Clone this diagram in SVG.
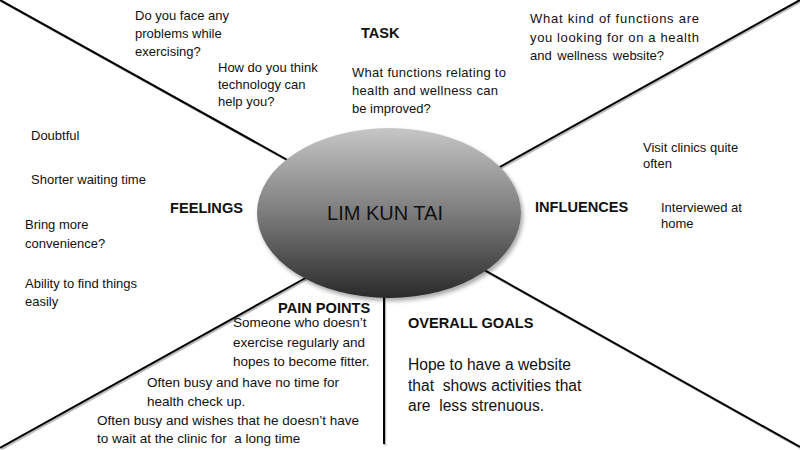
<svg xmlns="http://www.w3.org/2000/svg" width="800" height="450" viewBox="0 0 800 450">
<defs>
<linearGradient id="g" x1="0" y1="0" x2="0" y2="1">
<stop offset="0" stop-color="#c6c6c6"/>
<stop offset="0.5" stop-color="#7c7c7c"/>
<stop offset="1" stop-color="#2a2a2a"/>
</linearGradient>
<filter id="sh" x="-20%" y="-20%" width="140%" height="150%">
<feDropShadow dx="2" dy="3" stdDeviation="2" flood-color="#000" flood-opacity="0.35"/>
</filter>
</defs>
<style>
text{font-family:"Liberation Sans",Arial,sans-serif;fill:#111;}
.t{font-size:13px;}
.p{font-size:13.5px;}
.h{font-size:14.6px;font-weight:bold;}
.g{font-size:15.6px;}
.ln{stroke:#000;stroke-width:2;fill:none;}
.lns{stroke:#bbb;stroke-width:2;fill:none;}
</style>
<rect width="800" height="450" fill="#fff"/>
<g id="connectors">
<g transform="translate(1.2,1.5)">
<line class="lns" x1="0" y1="0" x2="300" y2="167"/>
<line class="lns" x1="800" y1="0" x2="480" y2="178"/>
<line class="lns" x1="0" y1="448" x2="320" y2="270"/>
<line class="lns" x1="800" y1="447" x2="470" y2="262"/>
<line class="lns" x1="384" y1="290" x2="384" y2="444"/>
</g>
<line class="ln" x1="0" y1="0" x2="300" y2="167"/>
<line class="ln" x1="800" y1="0" x2="480" y2="178"/>
<line class="ln" x1="0" y1="448" x2="320" y2="270"/>
<line class="ln" x1="800" y1="447" x2="470" y2="262"/>
<line class="ln" x1="384" y1="290" x2="384" y2="444"/>
</g>
<g id="center">
<ellipse cx="389" cy="213" rx="132" ry="85" fill="url(#g)" filter="url(#sh)"/>
<text x="385" y="220" font-size="20" text-anchor="middle">LIM KUN TAI</text>
</g>
<g id="task">
<text class="h" x="361" y="38">TASK</text>
<text class="t" x="352" y="77" textLength="154" lengthAdjust="spacing">What functions relating to</text>
<text class="t" x="352" y="95" textLength="146" lengthAdjust="spacing">health and wellness can</text>
<text class="t" x="352" y="113">be improved?</text>
</g>
<g id="task-left">
<text class="t" x="135" y="20">Do you face any</text>
<text class="t" x="135" y="38">problems while</text>
<text class="t" x="135" y="56">exercising?</text>
<text class="t" x="218" y="72">How do you think</text>
<text class="t" x="218" y="89">technology can</text>
<text class="t" x="218" y="106">help you?</text>
</g>
<g id="task-right">
<text class="t" x="530" y="23" textLength="169" lengthAdjust="spacing">What kind of functions are</text>
<text class="t" x="530" y="41.5" textLength="169" lengthAdjust="spacing">you looking for on a health</text>
<text class="t" x="530" y="60" word-spacing="2">and wellness website?</text>
</g>
<g id="feelings">
<text class="h" x="170" y="213">FEELINGS</text>
<text class="t" x="31" y="140">Doubtful</text>
<text class="t" x="31" y="184">Shorter waiting time</text>
<text class="t" x="25" y="229">Bring more</text>
<text class="t" x="25" y="248">convenience?</text>
<text class="t" x="25" y="288">Ability to find things</text>
<text class="t" x="25" y="306">easily</text>
</g>
<g id="influences">
<text class="h" x="535" y="212">INFLUENCES</text>
<text class="t" x="643" y="152">Visit clinics quite</text>
<text class="t" x="643" y="168">often</text>
<text class="t" x="661" y="212">Interviewed at</text>
<text class="t" x="661" y="228">home</text>
</g>
<g id="pain-points">
<text class="h" x="278" y="313">PAIN POINTS</text>
<text class="p" x="233" y="327">Someone who doesn’t</text>
<text class="p" x="233" y="347">exercise regularly and</text>
<text class="p" x="233" y="366">hopes to become fitter.</text>
<text class="p" x="147" y="387">Often busy and have no time for</text>
<text class="p" x="147" y="406">health check up.</text>
<text class="p" x="97" y="425">Often busy and wishes that he doesn’t have</text>
<text class="p" x="97" y="443" xml:space="preserve">to wait at the clinic for  a long time</text>
</g>
<g id="overall-goals">
<text class="h" x="408" y="328">OVERALL GOALS</text>
<text class="g" x="408" y="370">Hope to have a website</text>
<text class="g" x="408" y="391" xml:space="preserve">that  shows activities that</text>
<text class="g" x="408" y="411" xml:space="preserve">are  less strenuous.</text>
</g>
</svg>
